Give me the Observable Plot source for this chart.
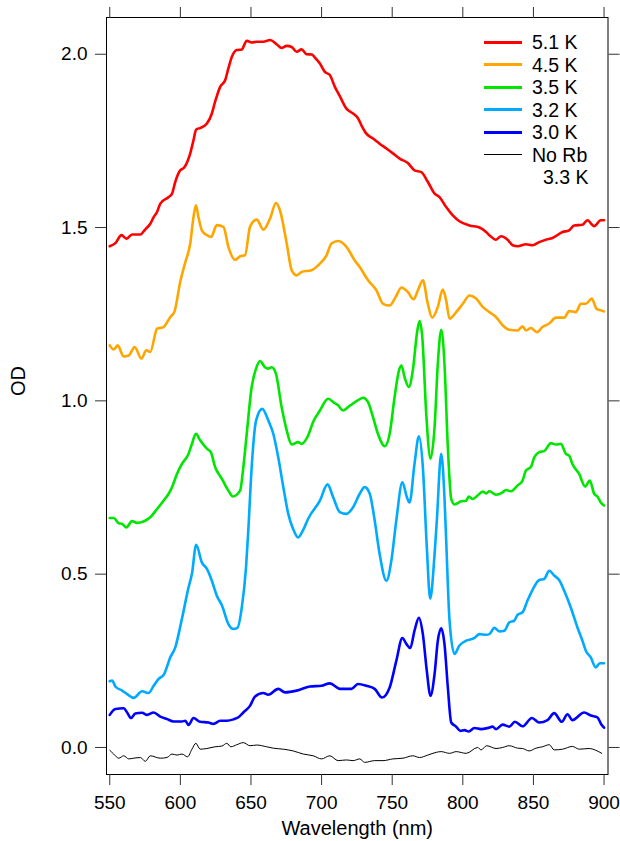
<!DOCTYPE html>
<html>
<head>
<meta charset="utf-8">
<script src="https://cdn.jsdelivr.net/npm/d3@7"></script>
<script src="https://cdn.jsdelivr.net/npm/@observablehq/plot@0.6"></script>
<style>
  html, body { margin: 0; padding: 0; background: #fff; }
  #wrap { position: relative; width: 620px; height: 841px; font-family: "Liberation Sans", Arial, sans-serif; }
  #legend { position: absolute; left: 484px; top: 31px; font-size: 19.5px; line-height: 22.5px; color: #000; }
  .row { display: flex; align-items: center; height: 22.5px; white-space: nowrap; }
  .sw { display: inline-block; width: 38px; margin-right: 10px; }
  .indent { padding-left: 59px; height: 22.5px; }
</style>
</head>
<body>
<div id="wrap"><div id="chart"></div><div id="legend"></div></div>
<script>
// Wavelength (nm), OD pairs
const xTicks = [550, 600, 650, 700, 750, 800, 850, 900];
const yTicks = [0, 0.5, 1.0, 1.5, 2.0];

const red51 = [[550,1.446],[554,1.455],[558.3,1.478],[561.8,1.468],[565.8,1.480],[571.7,1.480],[575.2,1.495],[578.7,1.511],[581.1,1.530],[583.5,1.545],[585.8,1.569],[591.7,1.588],[594.1,1.598],[596.4,1.632],[599.9,1.665],[602.7,1.673],[607,1.714],[609.3,1.752],[611.2,1.783],[614,1.787],[618.8,1.800],[622.3,1.829],[624.6,1.863],[628.2,1.906],[631.7,1.925],[634,1.959],[636.4,1.992],[640,2.012],[643.5,2.014],[647,2.039],[650.5,2.034],[654.1,2.036],[658.7,2.036],[663.5,2.041],[668.2,2.029],[671.7,2.018],[675.3,2.024],[678.8,2.021],[682.3,2.007],[685.8,2.014],[689.4,2.000],[692.9,1.999],[696.4,1.985],[698.8,1.973],[702.3,1.949],[705.8,1.940],[709.4,1.906],[712.9,1.879],[717.6,1.843],[722.3,1.829],[725.8,1.815],[728.2,1.795],[731.7,1.771],[736.4,1.757],[741.1,1.742],[745.9,1.728],[750.5,1.714],[755.3,1.699],[761.1,1.686],[765.8,1.665],[770.6,1.660],[775.2,1.632],[780,1.598],[783.5,1.588],[788.2,1.559],[792.9,1.535],[797.6,1.518],[804.7,1.506],[811.8,1.500],[816.5,1.487],[818.8,1.478],[823.5,1.465],[827.1,1.475],[831.7,1.465],[835.3,1.449],[838.8,1.446],[844.7,1.452],[849.4,1.449],[854.1,1.458],[858.8,1.465],[863.5,1.470],[870.6,1.487],[875.3,1.492],[878.8,1.506],[884.7,1.508],[888.2,1.521],[893,1.504],[897.7,1.521],[900,1.521]];

const orange45 = [[550,1.160],[552.8,1.148],[555.6,1.160],[559.9,1.128],[563.4,1.131],[567.7,1.155],[572.4,1.122],[575.9,1.146],[578.7,1.141],[583.5,1.208],[588.1,1.213],[592.9,1.242],[595.7,1.256],[600,1.345],[603.5,1.400],[607,1.454],[609.3,1.530],[611,1.564],[612.8,1.530],[615.2,1.492],[618.8,1.478],[621.8,1.473],[625.8,1.507],[630.5,1.502],[634,1.444],[638.8,1.407],[642.3,1.417],[645.8,1.420],[649.3,1.502],[654.1,1.523],[658.7,1.494],[663.5,1.526],[667.7,1.571],[670.5,1.550],[675.3,1.454],[678.8,1.377],[682.3,1.362],[685.8,1.372],[692.9,1.377],[698.8,1.396],[703.5,1.420],[707,1.454],[711.7,1.461],[717.6,1.444],[723.5,1.405],[727,1.386],[732.9,1.348],[738.8,1.319],[743.5,1.280],[748.2,1.275],[752.5,1.300],[756.5,1.327],[761.1,1.314],[765.1,1.293],[768.2,1.319],[771.7,1.348],[775.2,1.280],[778.3,1.240],[782.3,1.271],[785.8,1.321],[788.2,1.290],[790.6,1.237],[795.3,1.256],[800,1.280],[804.7,1.304],[809.4,1.295],[814.1,1.271],[818.8,1.256],[823.5,1.242],[828.2,1.218],[832.9,1.205],[838.8,1.203],[842.3,1.215],[844.7,1.203],[848.2,1.210],[852.5,1.198],[856.4,1.213],[861.2,1.223],[865.9,1.240],[871.8,1.240],[875.3,1.259],[880,1.256],[883.6,1.280],[887.1,1.280],[891.3,1.295],[894.6,1.266],[897.7,1.261],[900,1.258]];

const green35 = [[550,0.662],[552.8,0.662],[556.4,0.647],[558.8,0.645],[561.8,0.635],[565.8,0.653],[569.3,0.648],[574,0.652],[578.7,0.664],[583.5,0.688],[588.1,0.712],[591.7,0.732],[594.1,0.751],[597.6,0.789],[601.1,0.818],[605.8,0.847],[608.2,0.876],[611,0.905],[614,0.886],[618.8,0.862],[621.6,0.852],[624.6,0.809],[629.4,0.775],[634,0.741],[637.1,0.724],[642.3,0.741],[644.6,0.809],[647,0.905],[650.5,1.040],[653.6,1.093],[656.4,1.115],[659.9,1.097],[662.3,1.093],[664.7,1.097],[667.7,1.078],[671.7,0.982],[675.3,0.915],[678.8,0.874],[683.4,0.881],[685.8,0.876],[690.5,0.900],[694,0.939],[698.8,0.972],[704.6,1.006],[709.4,0.993],[711.7,0.987],[715.2,0.972],[718.8,0.982],[724.7,0.999],[729.4,1.009],[732.9,0.996],[736.4,0.953],[739.9,0.905],[744.7,0.869],[748.2,0.905],[751.7,1.011],[754.8,1.088],[756.5,1.102],[758.8,1.068],[761.8,1.040],[764.6,1.088],[767.8,1.203],[769.4,1.230],[771.3,1.184],[774.1,0.963],[777.1,0.833],[780,0.924],[782.3,1.107],[784.7,1.205],[787,1.107],[789.4,0.866],[791.8,0.717],[794.1,0.701],[798.8,0.710],[802.4,0.712],[804.2,0.724],[807,0.717],[810.5,0.727],[814.1,0.738],[816.5,0.733],[818.8,0.739],[823.5,0.729],[828.2,0.736],[830.6,0.743],[834.1,0.739],[838.8,0.756],[842.3,0.770],[844.7,0.799],[848.2,0.809],[850.6,0.837],[854.1,0.852],[857.6,0.855],[862.4,0.878],[865.9,0.874],[869.4,0.876],[873,0.847],[875.3,0.842],[877.6,0.818],[882.4,0.789],[886.6,0.753],[889.9,0.770],[893,0.732],[895.3,0.724],[897.7,0.707],[900,0.698]];

const blue32 = [[550,0.191],[551.7,0.193],[554,0.176],[558.8,0.164],[562.3,0.154],[566.9,0.143],[572.9,0.162],[577.5,0.157],[581.1,0.178],[584.6,0.198],[588.3,0.210],[592.9,0.260],[596.4,0.289],[601.1,0.371],[605.8,0.462],[608.2,0.501],[611.2,0.585],[615.2,0.534],[618.8,0.515],[622.3,0.481],[625.8,0.438],[629.4,0.410],[634,0.356],[637.6,0.342],[640.4,0.345],[643.5,0.404],[646.5,0.520],[648.1,0.626],[650.5,0.809],[653.6,0.943],[658,0.977],[662.3,0.943],[665.8,0.905],[669.3,0.837],[672.9,0.751],[676.4,0.674],[679.7,0.632],[683.4,0.606],[686.8,0.626],[690.5,0.660],[698.8,0.712],[704.2,0.759],[708.2,0.722],[712.9,0.679],[717.6,0.674],[722.3,0.693],[727,0.732],[730.5,0.751],[734.1,0.732],[737.6,0.655],[741.1,0.558],[745.9,0.481],[749.4,0.539],[752.9,0.655],[757.2,0.765],[760.4,0.722],[762.3,0.707],[765.8,0.818],[768.9,0.898],[771.7,0.809],[774.5,0.578],[776.9,0.429],[780,0.558],[781.6,0.655],[784.7,0.847],[787,0.722],[788.2,0.600],[790.6,0.366],[794.1,0.270],[797.6,0.294],[802.4,0.308],[808.3,0.316],[811.8,0.327],[816.5,0.325],[818.8,0.327],[822.3,0.345],[825.9,0.335],[829.4,0.337],[832.9,0.361],[836.5,0.366],[838.8,0.383],[842.3,0.390],[845.8,0.424],[849.4,0.455],[854.1,0.483],[857.6,0.486],[861.2,0.510],[864.7,0.496],[868.2,0.483],[871.8,0.452],[876.5,0.403],[881.1,0.347],[884.7,0.308],[887.1,0.279],[890.6,0.260],[894.1,0.231],[897,0.243],[900,0.243]];

const blue30 = [[550,0.094],[554,0.111],[559.9,0.113],[562.3,0.101],[565.1,0.085],[568.1,0.098],[572.9,0.100],[576.4,0.094],[581.1,0.101],[585.8,0.089],[590.5,0.082],[595.2,0.075],[601.1,0.075],[603.5,0.077],[605.8,0.065],[609.3,0.085],[614,0.074],[619.9,0.072],[623.4,0.068],[628.2,0.077],[632.9,0.077],[637.6,0.081],[641.1,0.087],[644.6,0.101],[649.3,0.120],[652.9,0.147],[658.7,0.157],[662.3,0.152],[669.3,0.169],[674.1,0.159],[682.3,0.164],[691.7,0.176],[700,0.178],[705.8,0.185],[712.9,0.169],[721.2,0.169],[725.8,0.183],[731.7,0.178],[737.6,0.169],[742.8,0.144],[748.2,0.173],[752.9,0.250],[757.2,0.316],[760,0.299],[762.8,0.287],[765.8,0.337],[768.9,0.374],[771.7,0.327],[774.5,0.221],[777.1,0.149],[780,0.212],[782.3,0.308],[784.7,0.344],[787,0.299],[789.4,0.173],[791.8,0.072],[795.3,0.060],[798.3,0.048],[801.2,0.050],[804.2,0.046],[808.2,0.056],[812.9,0.053],[817.6,0.056],[821.1,0.060],[823.5,0.053],[828.2,0.066],[832.9,0.060],[836.9,0.074],[842.3,0.061],[848.9,0.085],[854.1,0.072],[860,0.079],[864.7,0.099],[870.1,0.074],[874.1,0.096],[877.6,0.079],[885.9,0.101],[890.6,0.092],[895.3,0.087],[898.1,0.066],[900,0.057]];

const noRb33 = [[550,-0.008],[552.8,-0.019],[556.4,-0.031],[559.9,-0.024],[563.4,-0.033],[566.9,-0.031],[571.7,-0.029],[575.2,-0.040],[578.7,-0.024],[585.8,-0.031],[590.5,-0.029],[594.1,-0.019],[597.6,-0.022],[601.1,-0.019],[605.1,-0.027],[608.2,-0.005],[611,0.012],[614,-0.005],[618.8,-0.003],[624.6,0.002],[629.4,0.004],[632.9,0.012],[635.7,0.002],[640,0.008],[644.6,0.014],[649.3,0.005],[654.1,0.007],[661.1,0.002],[665.8,-0.002],[672.9,-0.005],[679.9,-0.010],[687,-0.019],[694,-0.024],[700,-0.033],[705.8,-0.024],[711.7,-0.038],[717.6,-0.036],[722.3,-0.038],[727,-0.033],[730.5,-0.043],[737.6,-0.038],[743.5,-0.038],[750.5,-0.033],[757.6,-0.031],[764.6,-0.024],[769.4,-0.029],[775.2,-0.022],[781.2,-0.014],[784.7,-0.012],[790.6,-0.017],[795.3,-0.012],[802.4,-0.017],[810.5,0.000],[812.9,-0.007],[816.9,0.005],[823.5,-0.003],[828.2,0.000],[832.9,0.005],[838.8,-0.002],[842.3,-0.003],[847,-0.010],[851.8,-0.002],[856.4,0.002],[861.2,0.008],[864.7,-0.007],[870.6,-0.005],[877.6,0.003],[882.4,-0.005],[889.4,-0.003],[894.1,-0.008],[898.4,-0.017]];

const seriesNames = ["5.1 K", "4.5 K", "3.5 K", "3.2 K", "3.0 K", "No Rb"];
const seriesColors = ["#ff0000", "#ffa500", "#00e600", "#00aaff", "#0000ff", "#000000"];
const seriesWidths = [2.6, 2.6, 2.6, 2.6, 2.6, 1];
const seriesData = [red51, orange45, green35, blue32, blue30, noRb33];

const lineMarks = seriesData.map((d, i) =>
  Plot.line(d, {x: d => d[0], y: d => d[1], stroke: seriesColors[i], strokeWidth: seriesWidths[i], curve: "monotone-x"})
);

const chart = Plot.plot({
  width: 620,
  height: 841,
  marginTop: 17,
  marginBottom: 67,
  marginLeft: 106,
  marginRight: 12.5,
  x: {domain: [547.7, 902.8]},
  y: {domain: [-0.078, 2.106]},
  style: {fontFamily: "'Liberation Sans', Arial, sans-serif", fontSize: "19px", color: "#000", background: "#fff", overflow: "visible"},
  marks: [
    ...lineMarks,
    Plot.frame({stroke: "#000", strokeWidth: 1}),
    Plot.axisX({ticks: xTicks, anchor: "bottom", tickSize: 11, tickPadding: 10, label: null, tickFormat: d => String(d), stroke: "#333"}),
    Plot.axisX({ticks: xTicks, anchor: "top", tickSize: 11, label: null, tickFormat: () => "", stroke: "#333"}),
    Plot.axisY({ticks: yTicks, anchor: "left", tickSize: 11, tickPadding: 8, label: null, tickFormat: d => d.toFixed(1), stroke: "#333"}),
    Plot.axisY({ticks: yTicks, anchor: "right", tickSize: 11, label: null, tickFormat: () => "", stroke: "#333"}),
    Plot.text(["Wavelength (nm)"], {frameAnchor: "bottom", dy: 53.6, lineAnchor: "middle", fontSize: 20, text: d => d}),
    Plot.text(["OD"], {frameAnchor: "left", dx: -87.5, rotate: -90, lineAnchor: "middle", fontSize: 20, text: d => d})
  ]
});
document.getElementById("chart").appendChild(chart);

// Legend (inside plot area, top right)
const legend = document.getElementById("legend");
seriesNames.forEach((name, i) => {
  const row = document.createElement("div");
  row.className = "row";
  const sw = document.createElement("span");
  sw.className = "sw";
  sw.style.borderTop = `${seriesWidths[i] > 1 ? 3 : 1}px solid ${seriesColors[i]}`;
  row.appendChild(sw);
  const t = document.createElement("span");
  t.textContent = name;
  row.appendChild(t);
  legend.appendChild(row);
});
const extra = document.createElement("div");
extra.className = "row indent";
extra.textContent = "3.3 K";
legend.appendChild(extra);
</script>
</body>
</html>
